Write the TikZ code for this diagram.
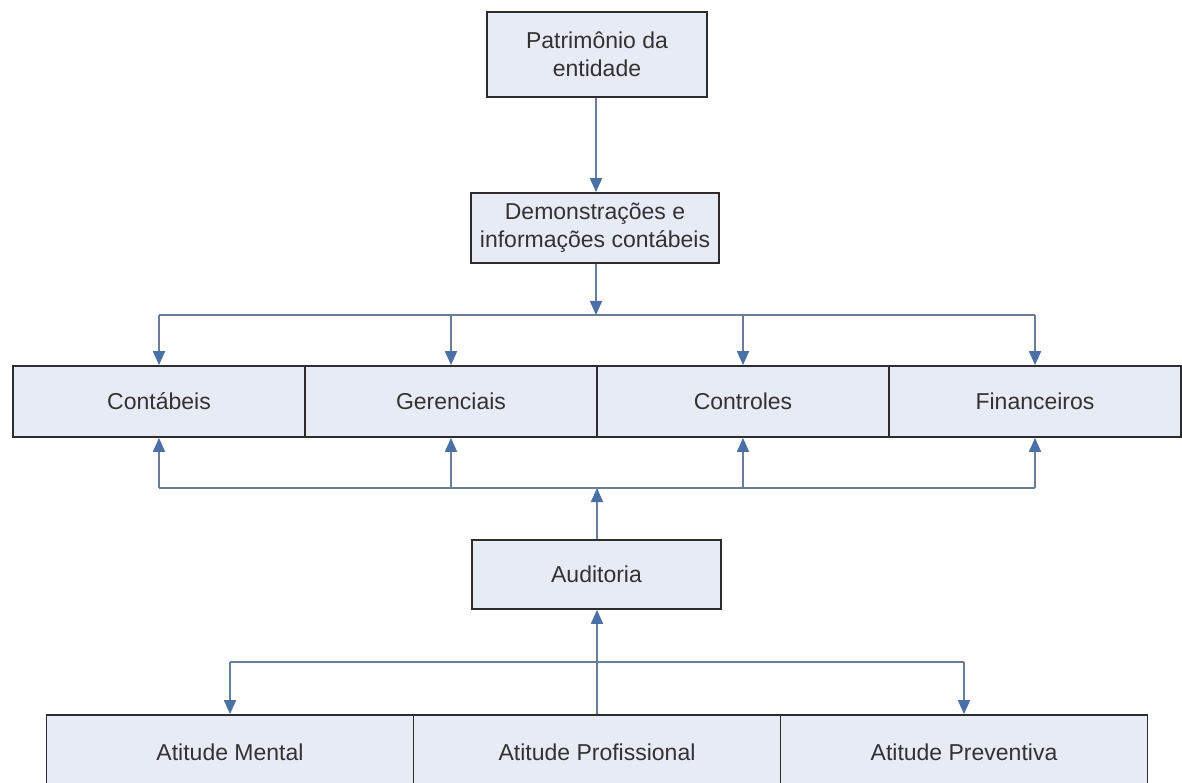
\documentclass[tikz,border=0pt]{standalone}
\usepackage{fontspec}
\setmainfont{Liberation Sans}
\usetikzlibrary{arrows.meta}
\definecolor{boxfill}{RGB}{231,235,245}
\definecolor{boxline}{RGB}{45,45,45}
\definecolor{linkgray}{RGB}{105,125,150}
\definecolor{tipblue}{RGB}{75,112,165}
\definecolor{txt}{RGB}{50,50,50}

\begin{document}
\begin{tikzpicture}[x=1pt, y=-1pt,
    box/.style={rectangle, draw=boxline, fill=boxfill, line width=1.8pt, align=center, text=txt, font=\fontsize{23}{28}\selectfont, inner sep=0pt},
    a/.style={-{Triangle[width=12pt, length=14pt, color=tipblue]}, line width=1.8pt, draw=linkgray},
    bus/.style={line width=1.8pt, draw=linkgray}
]
    \useasboundingbox (0,0) rectangle (1182,783);
    \clip (0,0) rectangle (1182,783);
    \fill[white] (0,0) rectangle (1182,783);

    \node[box, minimum width=220pt, minimum height=85pt] (patr) at (597,54.5) {Patrimônio da\\entidade};
    \node[box, minimum width=248pt, minimum height=70pt] (demo) at (595,228) {Demonstrações e\\informações contábeis};

    \node[box, minimum width=292pt, minimum height=71pt] (cont) at (159,401.5) {Contábeis};
    \node[box, minimum width=292pt, minimum height=71pt] (ger)  at (451,401.5) {Gerenciais};
    \node[box, minimum width=292pt, minimum height=71pt] (ctrl) at (743,401.5) {Controles};
    \node[box, minimum width=292pt, minimum height=71pt] (fin)  at (1035,401.5) {Financeiros};

    \node[box, minimum width=249pt, minimum height=69pt] (aud) at (596.5,574.5) {Auditoria};

    \node[box, minimum width=367pt, minimum height=74pt] (ment) at (230,752) {Atitude Mental};
    \node[box, minimum width=367pt, minimum height=74pt] (prof) at (597,752) {Atitude Profissional};
    \node[box, minimum width=367pt, minimum height=74pt] (prev) at (964,752) {Atitude Preventiva};

    \coordinate (top)  at (596,315);
    \coordinate (mid)  at (597,488);
    \coordinate (low)  at (597,662);

    \draw[a] (patr.south -| top) -- (demo.north -| top);

    % saida das demonstracoes
    \draw[a] (demo.south -| top) -- (top);
    \draw[bus] (cont.north |- top) -- (fin.north |- top);
    \foreach \n in {cont,ger,ctrl,fin}
        \draw[a] (\n.north |- top) -- (\n.north);

    % auditoria sobre as areas
    \draw[a] (aud.north -| mid) -- (mid);
    \draw[bus] (cont.south |- mid) -- (fin.south |- mid);
    \foreach \n in {cont,ger,ctrl,fin}
        \draw[a] (\n.south |- mid) -- (\n.south);

    % atitudes
    \draw[a] (prof.north) -- (aud.south -| prof.north);
    \draw[bus] (ment.north |- low) -- (prev.north |- low);
    \draw[a] (ment.north |- low) -- (ment.north);
    \draw[a] (prev.north |- low) -- (prev.north);
\end{tikzpicture}
\end{document}
